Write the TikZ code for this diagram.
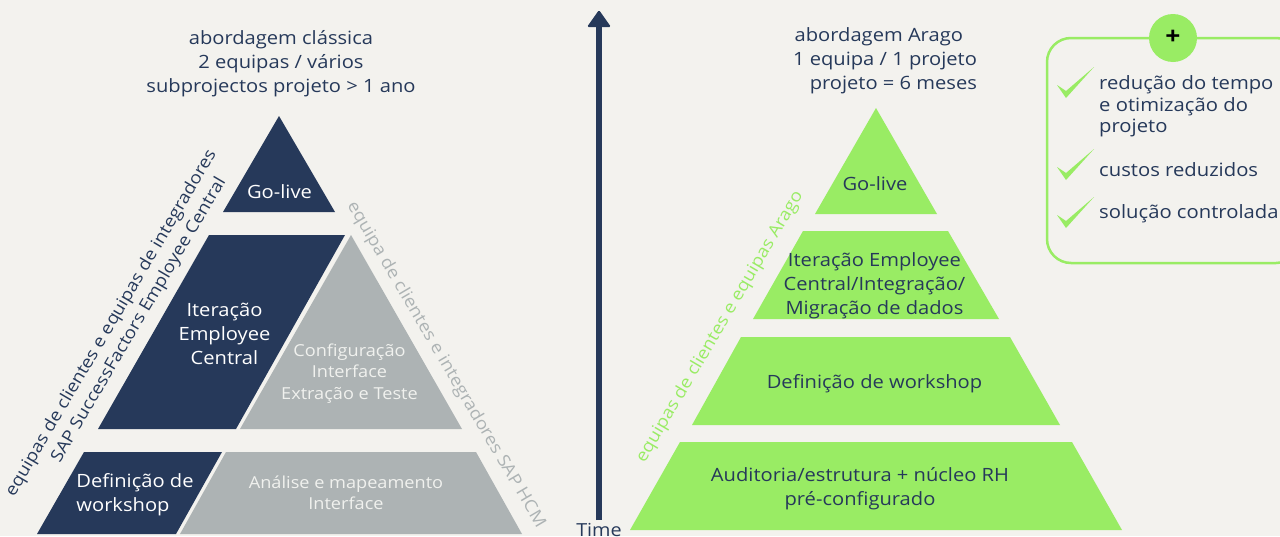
\documentclass[tikz,border=0pt]{standalone}
\usepackage{fontspec}
\setmainfont[FakeStretch=1.1]{Open Sans}
\definecolor{bgc}{HTML}{F3F2EE}
\definecolor{navy}{HTML}{26395A}
\definecolor{lime}{HTML}{99EC64}
\definecolor{greyb}{HTML}{ADB3B4}
\definecolor{greyt}{HTML}{F0F1EE}
\begin{document}
\begin{tikzpicture}[x=1pt,y=-1pt,
  lab/.style={align=center,font=\fontsize{18.3}{24}\selectfont,text=navy,inner sep=0pt},
  wlab/.style={lab,text=white},
  glab/.style={align=center,font=\fontsize{16.5}{21.5}\selectfont,text=greyt,inner sep=0pt},
  dark/.style={fill=navy},grey/.style={fill=greyb},green/.style={fill=lime},
  side/.style={font=\fontsize{17}{22}\selectfont,inner sep=0pt,align=center},
  item/.style={lab,align=left,anchor=west,font=\fontsize{18.4}{21.5}\selectfont},
  tick/.pic={\fill[lime] (0,0) -- (9,6) -- (37,-18) -- (9,13) -- cycle;}]
\useasboundingbox (0,0) rectangle (1280,536);
\fill[bgc] (0,0) rectangle (1280,536);
% left pyramid
\fill[dark] (279,116) -- (335,212) -- (223,212) -- cycle;
\fill[dark] (209,235) -- (345,235) -- (236,429) -- (98,429) -- cycle;
\fill[grey] (351,235) -- (462,429) -- (240,429) -- cycle;
\fill[dark] (84,452) -- (222,452) -- (176,534) -- (37,534) -- cycle;
\fill[grey] (226,452) -- (476,452) -- (522,534) -- (180,534) -- cycle;
\node[lab] (t1) at (281,63.5) {abordagem clássica\\2 equipas / vários\\subprojectos projeto > 1 ano};
\node[wlab] (n1) at (279.5,192) {Go-live};
\node[wlab] (n2) at (224.5,333.5) {Iteração\\Employee\\Central};
\node[glab] (n3) at (349.5,373.5) {Configuração\\Interface\\Extração e Teste};
\node[wlab,align=left] (n4) at (135,495) {Definição de\\workshop};
\node[glab] (n5) at (346,493) {Análise e mapeamento\\Interface};
\node[side,text=navy,rotate=59.5] (s1) at (121,329) {equipas de clientes e equipas de integradores\\\hspace*{34pt}SAP SuccessFactors Employee Central};
\node[side,text=greyb,rotate=-59.5] (s2) at (446,365) {equipa de clientes e integradores SAP HCM};
% time arrow
\coordinate (tb) at (599,520);
\coordinate (tt) at (599,12);
\draw[navy,line width=6pt] (tb) -- (599,24);
\fill[navy,rounded corners=1.5pt] (599,10) -- (611,27) -- (587,27) -- cycle;
\node[lab,font=\fontsize{18}{20}\selectfont] (time) at (599,530) {Time};
% right pyramid
\fill[green] (876,108) -- (937,214) -- (815,214) -- cycle;
\fill[green] (803,231) -- (948,231) -- (999,319) -- (753,319) -- cycle;
\fill[green] (741,337) -- (1010,337) -- (1060,425) -- (692,425) -- cycle;
\fill[green] (680,442) -- (1072,442) -- (1122,530) -- (630,530) -- cycle;
\node[lab,align=right] (t2) at (885,61) {abordagem Arago\hspace*{14pt}\\1 equipa / 1 projeto\\projeto = 6 meses};
\node[lab] (r1) at (875,184) {Go-live};
\node[lab] (r2) at (874.5,285.5) {Iteração Employee\\Central/Integração/\\Migração de dados};
\node[lab] (r3) at (874.5,383.5) {Definição de workshop};
\node[lab] (r4) at (860,488.5) {Auditoria/estrutura + núcleo RH\\pré-configurado};
\node[side,text=lime,rotate=59.5] (s3) at (720,327) {equipas de clientes e equipas Arago};
% benefits box
\draw[lime,line width=2.5pt,rounded corners=24pt] (1047,38) rectangle (1300,263);
\fill[lime] (1173,38) circle (24);
\node[lab,text=black,font=\bfseries\fontsize{24}{24}\selectfont] (plus) at (1173,37) {+};
\pic at (1057,85) {tick};
\pic at (1057,167) {tick};
\pic at (1057,215) {tick};
\node[item] (b1) at (1099,106.5) {redução do tempo\\e otimização do\\projeto};
\node[item] (b2) at (1099,169.5) {custos reduzidos};
\node[item] (b3) at (1099,214) {solução controlada};
\end{tikzpicture}
\end{document}
